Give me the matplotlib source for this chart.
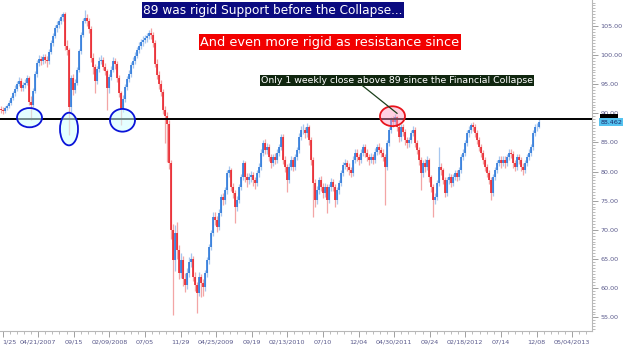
import numpy as np
import matplotlib
matplotlib.use("Agg")
import matplotlib.pyplot as plt
import matplotlib.transforms as mtransforms
from matplotlib.patches import Ellipse, Rectangle
from matplotlib.ticker import MultipleLocator, FormatStrFormatter, AutoMinorLocator

# ---------------- data (weekly bars) ----------------
first_open = 90.8
closes = [
    90.6, 90.4, 90.9, 91.2, 91.8, 92.6, 93.4, 94.2, 95.0, 95.6,
    94.3, 94.8, 95.2, 96.0, 92.0, 91.5, 93.8, 96.8, 98.6, 99.3,
    99.0, 99.6, 99.2, 98.9, 100.5, 102.0, 103.3, 104.6, 105.2, 105.8,
    106.5, 107.0, 101.5, 100.8, 91.0, 96.0, 94.0, 95.2, 97.5, 100.6,
    103.5, 105.9, 106.4, 105.8, 104.5, 99.5, 97.9, 95.6, 97.6, 99.0,
    99.1, 98.0, 97.2, 94.3, 96.2, 97.5, 99.0, 98.4, 96.0, 93.4,
    90.8, 92.5, 94.5, 95.8, 96.8, 98.2, 99.0, 99.9, 100.8, 101.6,
    102.2, 102.6, 102.9, 103.2, 103.8, 103.5, 102.0, 98.5, 96.5, 95.0,
    93.6, 90.5, 89.6, 88.2, 81.4, 70.0, 64.8, 69.4, 66.5, 62.6,
    64.8, 61.5, 60.5, 62.6, 64.5, 65.0, 62.0, 60.5, 59.2, 62.0,
    60.9, 60.2, 62.6, 64.8, 67.0, 69.4, 72.2, 71.7, 70.5, 72.9,
    75.6, 75.1, 76.8, 79.7, 80.2, 77.3, 76.3, 73.9, 75.1, 77.3,
    79.0, 81.4, 79.0, 78.5, 79.0, 79.4, 78.5, 78.0, 79.7, 80.8,
    83.2, 84.9, 83.7, 84.2, 82.5, 81.4, 82.5, 82.0, 83.2, 84.2,
    85.9, 82.0, 80.8, 78.5, 80.8, 82.0, 80.8, 82.5, 83.7, 86.0,
    87.1, 87.1, 86.6, 87.6, 85.4, 82.0, 78.0, 75.1, 76.8, 78.5,
    77.3, 76.3, 77.3, 75.1, 77.3, 78.2, 77.3, 75.1, 76.8, 78.0,
    79.7, 81.1, 81.4, 80.8, 80.2, 79.7, 82.0, 83.2, 82.5, 82.0,
    83.2, 84.2, 83.2, 82.5, 82.0, 82.5, 82.0, 83.4, 84.2, 83.7,
    83.2, 82.5, 80.8, 84.9, 87.1, 88.8, 88.5, 89.3, 87.6, 85.9,
    87.6, 86.8, 85.4, 84.9, 85.4, 86.6, 87.1, 84.9, 83.7, 82.0,
    79.7, 81.4, 80.8, 82.0, 79.0, 77.3, 75.1, 75.6, 78.0, 80.8,
    80.2, 78.5, 76.3, 78.5, 79.0, 78.0, 79.0, 79.7, 79.0, 80.2,
    82.5, 83.2, 84.9, 86.6, 87.1, 88.0, 87.6, 86.6, 85.4, 84.2,
    83.2, 82.0, 80.8, 79.7, 78.5, 76.3, 79.0, 80.2, 81.4, 82.0,
    81.4, 82.0, 81.4, 82.5, 83.2, 83.0, 81.4, 80.8, 82.5, 82.0,
    80.8, 80.2, 81.4, 82.5, 83.2, 84.2, 86.6, 87.6, 87.6, 88.462,
]
highs = [
    91.2, 91.0, 91.3, 91.6, 92.3, 93.0, 93.9, 94.8, 95.5, 96.3,
    96.0, 95.4, 95.9, 96.6, 96.4, 92.9, 94.3, 97.3, 99.1, 100.0,
    99.9, 100.2, 100.1, 99.8, 101.0, 102.5, 103.8, 105.1, 105.8, 106.4,
    107.0, 107.4, 107.3, 102.6, 101.2, 96.6, 96.8, 95.9, 98.0, 101.1,
    104.0, 106.4, 107.8, 107.0, 106.3, 104.9, 100.3, 98.4, 98.1, 99.6,
    100.0, 99.6, 98.6, 97.6, 96.8, 98.1, 99.6, 99.5, 98.9, 96.5,
    93.9, 93.1, 95.0, 96.4, 97.4, 98.8, 99.6, 100.5, 101.4, 102.2,
    102.8, 103.2, 103.5, 103.8, 104.3, 104.6, 104.0, 102.5, 99.3, 97.2,
    95.7, 94.1, 91.2, 90.2, 88.8, 82.0, 71.0, 70.8, 71.3, 67.4,
    66.0, 65.6, 62.6, 63.4, 65.3, 66.1, 65.6, 62.8, 61.0, 62.8,
    62.5, 61.6, 63.2, 65.4, 67.6, 70.0, 73.0, 73.1, 72.4, 73.5,
    76.2, 76.4, 77.4, 80.3, 80.9, 80.6, 78.1, 76.8, 75.8, 77.9,
    79.6, 82.0, 81.9, 79.8, 79.7, 80.1, 80.0, 79.1, 80.3, 81.4,
    83.8, 85.5, 85.6, 84.9, 84.8, 83.1, 83.1, 83.2, 83.8, 84.8,
    86.5, 86.4, 82.6, 81.3, 81.4, 82.6, 82.5, 83.1, 84.3, 86.6,
    87.8, 88.1, 87.7, 88.3, 88.0, 85.9, 82.5, 78.8, 77.6, 79.1,
    79.2, 78.0, 78.0, 77.8, 77.9, 78.9, 78.8, 77.8, 77.4, 78.6,
    80.3, 81.7, 82.1, 82.0, 81.4, 80.8, 82.6, 83.8, 83.8, 83.0,
    83.8, 84.8, 84.8, 83.8, 83.1, 83.2, 83.1, 84.0, 84.8, 84.9,
    84.3, 83.8, 83.1, 85.5, 87.7, 89.4, 89.5, 89.8, 89.6, 88.1,
    88.2, 88.2, 87.3, 86.0, 86.0, 87.2, 87.9, 87.6, 85.4, 84.2,
    82.5, 82.0, 82.1, 82.6, 82.4, 79.5, 77.8, 76.4, 78.6, 84.2,
    81.5, 80.7, 79.0, 79.1, 79.7, 79.6, 79.6, 80.3, 80.3, 80.8,
    83.1, 83.8, 85.5, 87.2, 87.8, 88.4, 88.5, 88.1, 87.1, 85.9,
    84.7, 83.7, 82.5, 81.3, 80.2, 79.0, 79.6, 80.8, 82.0, 82.6,
    82.6, 82.6, 82.6, 83.1, 83.8, 83.8, 83.5, 82.0, 83.1, 83.1,
    82.5, 81.4, 82.0, 83.1, 83.8, 84.8, 87.2, 88.2, 88.3, 89.2,
]
lows = [
    90.1, 89.9, 90.1, 90.5, 90.9, 91.5, 92.2, 93.0, 93.8, 94.6,
    93.8, 93.9, 94.3, 94.8, 91.4, 88.9, 91.1, 93.4, 96.3, 98.1,
    98.3, 98.5, 98.6, 98.0, 98.5, 100.1, 101.6, 102.9, 104.0, 104.7,
    105.3, 105.9, 100.9, 100.0, 86.3, 90.2, 93.2, 93.5, 94.8, 97.0,
    100.2, 103.1, 105.4, 105.0, 103.7, 98.8, 96.8, 93.4, 95.0, 97.0,
    98.4, 97.4, 96.5, 90.5, 93.5, 95.7, 97.1, 97.6, 95.4, 92.8,
    88.0, 90.2, 92.0, 94.0, 95.3, 96.3, 97.7, 98.5, 99.4, 100.3,
    101.1, 101.6, 102.0, 102.3, 102.7, 102.8, 101.3, 97.9, 95.9, 94.2,
    92.9, 89.8, 84.9, 81.6, 80.5, 68.5, 55.4, 63.0, 65.0, 61.5,
    61.8, 60.4, 59.4, 59.8, 62.0, 63.7, 61.2, 59.5, 55.8, 58.7,
    58.5, 58.6, 59.6, 62.0, 64.2, 66.5, 68.9, 70.8, 69.6, 69.9,
    72.3, 74.2, 74.5, 76.2, 79.0, 76.6, 75.5, 71.1, 73.2, 74.6,
    76.8, 78.5, 78.2, 77.3, 77.8, 78.3, 77.6, 77.0, 77.5, 79.1,
    80.3, 82.7, 83.0, 83.0, 81.8, 80.6, 80.9, 81.3, 81.5, 82.7,
    83.7, 81.3, 79.9, 76.5, 78.0, 80.2, 80.1, 80.3, 82.0, 83.2,
    85.5, 86.4, 85.8, 86.0, 84.6, 81.1, 72.2, 74.0, 74.4, 76.2,
    76.6, 75.5, 75.7, 72.9, 74.6, 76.7, 76.6, 74.0, 74.5, 76.2,
    77.5, 79.2, 80.5, 80.1, 79.5, 79.0, 79.2, 81.5, 81.8, 81.2,
    81.5, 82.7, 82.5, 81.8, 81.2, 81.4, 81.3, 81.5, 82.9, 83.0,
    82.5, 81.8, 74.2, 80.2, 84.4, 86.6, 87.7, 88.0, 86.9, 85.0,
    85.3, 86.1, 84.6, 84.1, 84.3, 84.9, 86.1, 84.2, 83.0, 81.2,
    76.8, 79.1, 80.0, 80.2, 78.3, 76.5, 72.2, 74.4, 75.1, 77.5,
    79.5, 77.8, 75.6, 75.8, 77.9, 77.3, 77.5, 78.5, 78.4, 78.5,
    79.7, 82.0, 82.7, 84.4, 86.0, 86.6, 86.9, 85.9, 84.7, 83.5,
    82.5, 81.3, 80.1, 79.0, 77.8, 75.1, 75.8, 78.5, 79.7, 80.9,
    80.7, 80.9, 80.7, 80.9, 82.0, 82.3, 80.7, 80.1, 80.3, 81.3,
    80.1, 79.4, 79.7, 80.9, 82.0, 82.7, 83.7, 86.1, 86.9, 87.4,
]
tick_labels = ["1/25", "04/21/2007", "09/15", "02/09/2008", "07/05", "11/29",
               "04/25/2009", "09/19", "02/13/2010", "07/10", "12/04", "04/30/2011",
               "09/24", "02/18/2012", "07/14", "12/08", "05/04/2013"]
level = 89.0
last_price = 88.462

title1 = "89 was rigid Support before the Collapse..."
title2 = "And even more rigid as resistance since"
note = "Only 1 weekly close above 89 since the Financial Collapse"

# ---------------- figure ----------------
C = np.array(closes)
H = np.array(highs)
L = np.array(lows)
O = np.array([first_open] + closes[:-1])
x = np.arange(len(C))
up = C >= O

W, Hpx = 623, 347
fig = plt.figure(figsize=(W / 100, Hpx / 100), dpi=100)
fig.patch.set_facecolor("white")
ax = fig.add_axes([0, 16 / Hpx, 592 / W, 331 / Hpx])

ax.set_xlim(-0.5, 295.5)
ax.set_ylim(52.66, 109.43)

# wicks (light) and bodies (strong)
ax.vlines(x[up], L[up], H[up], color="#a7c7ef", lw=0.9, zorder=2)
ax.vlines(x[~up], L[~up], H[~up], color="#f3a5a5", lw=0.9, zorder=2)
ax.vlines(x[up], O[up], C[up], color="#1d6fd8", lw=1.1, zorder=3)
ax.vlines(x[~up], C[~up], O[~up], color="#e8141c", lw=1.1, zorder=3)

ax.axhline(level, color="black", lw=1.4, zorder=4)

# ellipses marking support / resistance tests
for (cx, cy, ew, eh) in [(14.25, 89.25, 12.5, 3.3), (34.0, 87.3, 9.0, 5.6), (60.75, 88.8, 12.5, 3.9)]:
    ax.add_patch(Ellipse((cx, cy), ew, eh, fc=(0.82, 1.0, 1.0, 0.55), ec="#0a14d8", lw=1.3, zorder=5))
ax.add_patch(Ellipse((195.75, 89.5), 12.5, 3.4, fc=(1.0, 0.6, 0.75, 0.45), ec="#e8141c", lw=1.3, zorder=5))

# annotation boxes
ax.text(136.0, 107.7, title1, color="white", fontsize=8.75, ha="center", va="center", zorder=6,
        bbox=dict(boxstyle="square,pad=0.12", fc="#0b0b80", ec="none"))
ax.text(164.5, 102.2, title2, color="white", fontsize=9.3, ha="center", va="center", zorder=6,
        bbox=dict(boxstyle="square,pad=0.12", fc="#f20000", ec="none"))
ax.text(198.0, 95.6, note, color="white", fontsize=6.75, ha="center", va="center", zorder=6,
        bbox=dict(boxstyle="square,pad=0.12", fc="#10260f", ec="none"))
ax.plot([180.5, 198.0], [94.8, 90.0], color="#1c401c", lw=0.9, zorder=6)

# axes styling
for s in ["left", "top"]:
    ax.spines[s].set_visible(False)
for s in ["right", "bottom"]:
    ax.spines[s].set_color("#b8b8b8")
    ax.spines[s].set_linewidth(0.8)

ax.yaxis.tick_right()
ax.yaxis.set_major_locator(MultipleLocator(5))
ax.yaxis.set_minor_locator(MultipleLocator(0.5))
ax.yaxis.set_major_formatter(FormatStrFormatter("%.2f"))
ax.tick_params(axis="y", which="major", length=4, width=0.6, color="#909090",
               labelsize=4.6, labelcolor="#5a5a8c", pad=2)
ax.tick_params(axis="y", which="minor", length=2, width=0.5, color="#a0a0a0")

tick_pos = [0.75 + 17.8 * k for k in range(len(tick_labels))]
ax.set_xticks(tick_pos)
ax.set_xticklabels(tick_labels)
ax.get_xticklabels()[0].set_horizontalalignment("left")
ax.xaxis.set_minor_locator(AutoMinorLocator(5))
ax.tick_params(axis="x", which="major", length=4, width=0.6, color="#909090",
               labelsize=4.6, labelcolor="#5a5a8c", pad=2)
ax.tick_params(axis="x", which="minor", length=2, width=0.5, color="#a0a0a0")

# price tags on the right axis
trans = mtransforms.blended_transform_factory(ax.transAxes, ax.transData)
ax.add_patch(Rectangle((1.0135, 88.9), 0.031, 0.93, transform=trans, fc="black", ec="none",
                       clip_on=False, zorder=7))
ax.text(1.0145, last_price, f"{last_price:.3f}", transform=trans, fontsize=4.6, color="#1a2a6c",
        ha="left", va="center", clip_on=False, zorder=8,
        bbox=dict(boxstyle="square,pad=0.25", fc="#55c3f0", ec="none"))

fig.savefig("out.png", dpi=100, facecolor="white")
